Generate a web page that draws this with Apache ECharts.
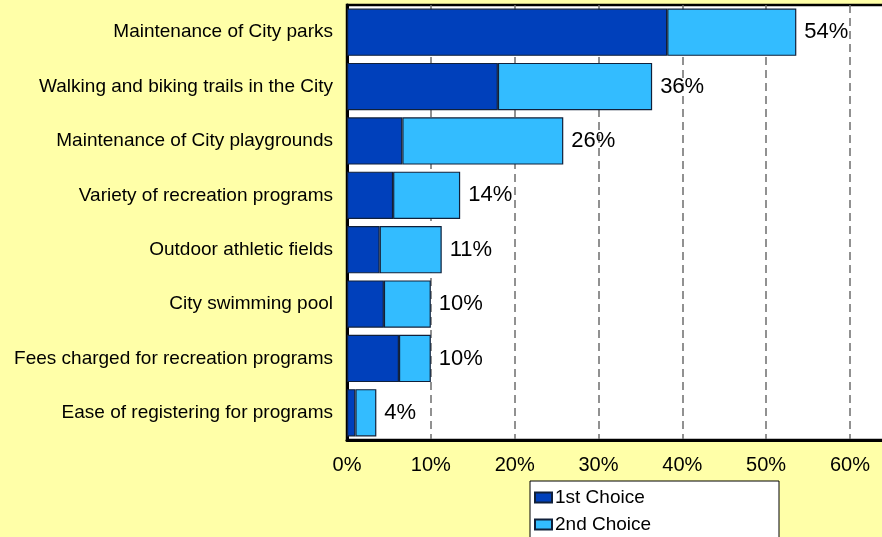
<!DOCTYPE html>
<html><head><meta charset="utf-8">
<script src="https://cdn.jsdelivr.net/npm/echarts@6/dist/echarts.min.js"></script>
<style>html,body{margin:0;padding:0;background:#FFFFA8;}#c{width:882px;height:537px;}</style>
</head><body><div id="c"></div>
<script>
const categories = ["Maintenance of City parks","Walking and biking trails in the City","Maintenance of City playgrounds","Variety of recreation programs","Outdoor athletic fields","City swimming pool","Fees charged for recreation programs","Ease of registering for programs"];
const firstChoice = [38.2, 18.0, 6.6, 5.5, 3.9, 4.4, 6.2, 1.0];
const secondChoice = [15.4, 18.4, 19.2, 8.0, 7.4, 5.6, 3.8, 2.5];
const totalLabels = ["54%","36%","26%","14%","11%","10%","10%","4%"];
const xTicks = [0,10,20,30,40,50,60];
const seriesNames = ["1st Choice","2nd Choice"];

const font = "'Liberation Sans', Arial, sans-serif";
const chart = echarts.init(document.getElementById('c'), null, {renderer:'canvas'});
chart.setOption({
  backgroundColor: '#FFFFA8',
  animation: false,
  grid: {left: 347, right: -4, top: 5, bottom: 97, outerBoundsMode: 'none', containLabel: false,
    show: true, backgroundColor: '#fff', borderColor: '#000', borderWidth: 2.5},
  graphic: [{type:'rect', z: 1, shape:{x:530, y:481, width:249, height:70}, style:{fill:'#fff', stroke:'#000', lineWidth:1}}],
  legend: {
    z: 10, orient: 'vertical', left: 530, top: 486, itemWidth: 17, itemHeight: 10, itemGap: 8,
    padding: [2, 4], icon: 'rect',
    textStyle: {fontFamily: font, fontSize: 19, color: '#000', padding: [0,0,0,-2]},
    data: seriesNames
  },
  xAxis: {
    type: 'value', min: 0, max: 64.3, interval: 10,
    axisLine: {show: true, lineStyle: {color: '#000', width: 3}},
    axisTick: {show: false},
    axisLabel: {fontFamily: font, fontSize: 20, color: '#000', margin: 15,
      formatter: v => xTicks.indexOf(v) >= 0 ? v + '%' : ''},
    splitLine: {show: true, lineStyle: {color: '#6e6e6e', width: 1.5, type: [8, 5]}}
  },
  yAxis: {
    type: 'category', inverse: true, data: categories,
    axisLine: {show: true, lineStyle: {color: '#000', width: 3}},
    axisTick: {show: false},
    axisLabel: {fontFamily: font, fontSize: 19, color: '#000', margin: 14}
  },
  series: [
    {name: seriesNames[0], type: 'bar', stack: 't', data: firstChoice, barCategoryGap: '13%',
     itemStyle: {color: '#0040BB', borderColor: '#10203a', borderWidth: 1.2}},
    {name: seriesNames[1], type: 'bar', stack: 't', data: secondChoice, barCategoryGap: '13%',
     itemStyle: {color: '#33BCFF', borderColor: '#10203a', borderWidth: 1.2},
     label: {show: true, position: 'right', distance: 8, fontFamily: font, fontSize: 22, color: '#000',
       formatter: p => totalLabels[p.dataIndex]}}
  ]
});
</script></body></html>
